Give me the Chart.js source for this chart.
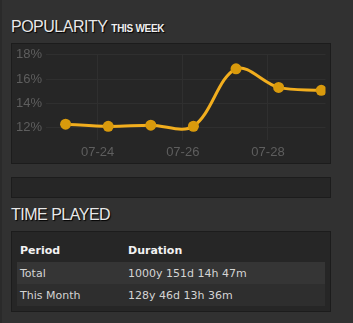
<!DOCTYPE html>
<html>
<head>
<meta charset="utf-8">
<script src="https://cdn.jsdelivr.net/npm/chart.js@4/dist/chart.umd.min.js"></script>
<style>
  html, body { margin: 0; padding: 0; }
  body {
    width: 353px; height: 323px; overflow: hidden; position: relative;
    background: #313131; font-family: "DejaVu Sans", Verdana, sans-serif;
  }
  #edge { position: absolute; left: 0; top: 0; width: 2px; height: 323px; background: #2a2a2a; }
  .title {
    position: absolute; left: 11px; color: #e8e8e8;
    font: 16px "Liberation Sans", Arial, sans-serif; letter-spacing: -0.5px;
    text-shadow: 1px 1px 1px #000;
  }
  .title small { font-size: 10px; font-weight: bold; letter-spacing: -0.3px; margin-left: 4px; color: #f0f0f0; }
  .box {
    position: absolute; left: 11px; width: 318px;
    background: #262626; border: 1px solid #1c1c1c;
  }
  #chartBox { top: 43px; height: 119px; }
  #barBox { top: 177px; height: 19px; }
  #tableBox { top: 231px; height: 79px; }
  table { position: absolute; left: 5px; top: 6px; width: 308px; border-collapse: collapse; font-size: 11px; color: #d4d4d4; }
  th { text-align: left; color: #f2f2f2; font-weight: bold; height: 24px; padding: 0 0 0 3px; }
  td { height: 22px; padding: 0 0 0 3px; }
  tr.r1 td { background: #353535; }
  tr.r2 td { background: #2e2e2e; }
  .c1 { width: 105px; }
  canvas { position: absolute; left: -1px; top: -1px; }
</style>
</head>
<body>
<div id="edge"></div>
<div class="title" style="top:18px">POPULARITY<small>THIS WEEK</small></div>
<div class="box" id="chartBox"><canvas id="chart" width="320" height="121"></canvas></div>
<div class="box" id="barBox"></div>
<div class="title" style="top:206px">TIME PLAYED</div>
<div class="box" id="tableBox">
  <table>
    <tr><th class="c1">Period</th><th>Duration</th></tr>
    <tbody id="rows"></tbody>
  </table>
</div>
<script>
// popularity this week, one point per day (x = day of July)
const days = [23.25, 24.25, 25.25, 26.25, 27.25, 28.25, 29.25];
const popularity = [12.3, 12.12, 12.22, 12.13, 16.85, 15.32, 15.08];
const xTicks = [24, 26, 28];
const xTickLabels = ["07-24", "07-26", "07-28"];
const yTicks = [12, 14, 16, 18];

const periods = ["Total", "This Month"];
const durations = ["1000y 151d 14h 47m", "128y 46d 13h 36m"];

document.getElementById("rows").innerHTML = periods
  .map((p, i) => `<tr class="r${i + 1}"><td>${p}</td><td>${durations[i]}</td></tr>`)
  .join("");

const tickFont = { family: "'Liberation Sans', Arial, sans-serif", size: 13 };

new Chart(document.getElementById("chart").getContext("2d"), {
  type: "line",
  data: {
    datasets: [{
      data: days.map((d, i) => ({ x: d, y: popularity[i] })),
      borderColor: "#f2ae1e",
      borderWidth: 3,
      backgroundColor: "#d99a0c",
      pointBackgroundColor: "#d99a0c",
      pointBorderColor: "#d99a0c",
      pointRadius: 5.5,
      pointBorderWidth: 0,
      tension: 0.35,
      fill: false,
    }],
  },
  options: {
    responsive: false,
    animation: false,
    events: [],
    layout: { padding: { top: 9, right: 4, left: 0, bottom: 0 } },
    plugins: { legend: { display: false }, tooltip: { enabled: false } },
    scales: {
      x: {
        type: "linear",
        min: 22.79,
        max: 29.35,
        afterBuildTicks: (s) => { s.ticks = xTicks.map((v) => ({ value: v })); },
        afterFit: (s) => { s.height = 24; },
        ticks: {
          color: "#5e5e5e",
          font: tickFont,
          padding: 5,
          maxRotation: 0,
          callback: (v) => xTickLabels[xTicks.indexOf(v)],
        },
        grid: { color: "#2f2f2f", drawTicks: false },
        border: { display: false },
      },
      y: {
        min: 11,
        max: 18,
        afterBuildTicks: (s) => { s.ticks = yTicks.map((v) => ({ value: v })); },
        afterFit: (s) => { s.width = 35; },
        ticks: {
          color: "#5e5e5e",
          font: tickFont,
          padding: 4,
          callback: (v) => v + "%",
        },
        grid: { color: "#2f2f2f", drawTicks: false },
        border: { display: false },
      },
    },
  },
});
</script>
</body>
</html>
